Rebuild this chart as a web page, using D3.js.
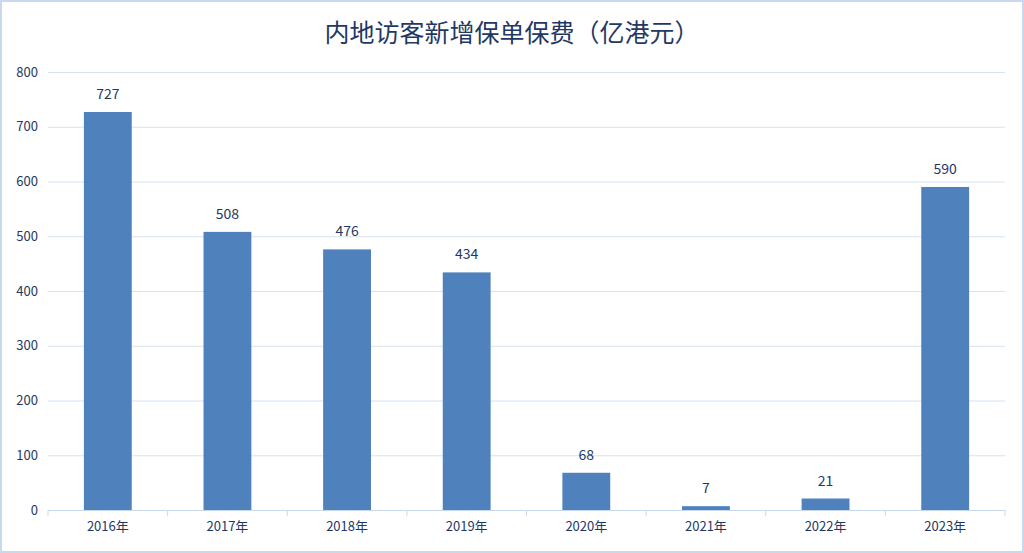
<!DOCTYPE html>
<html><head><meta charset="utf-8">
<script src="https://cdn.jsdelivr.net/npm/d3@7"></script>
<style>body{margin:0;background:#fff}svg{display:block}</style>
</head><body><svg id="c" width="1024" height="553"></svg>
<script>
const categories=["2016年","2017年","2018年","2019年","2020年","2021年","2022年","2023年"];
const values=[727,508,476,434,68,7,21,590];
const yTicks=[0,100,200,300,400,500,600,700,800];
const title="内地访客新增保单保费（亿港元）";

const svg=d3.select("#c");
const W=1024,H=553,m={l:48,r:1005,t:72,b:510};
const font="'Noto Sans CJK SC','Noto Sans',sans-serif";
svg.append("rect").attr("x",1).attr("y",1).attr("width",W-2).attr("height",H-2).attr("fill","#fff").attr("stroke","#c9d9ec").attr("stroke-width",2);
const x=d3.scaleBand().domain(categories).range([m.l,m.r]).paddingInner(0.6).paddingOuter(0.3);
const y=d3.scaleLinear().domain([0,800]).range([m.b,m.t]);
svg.append("text").attr("x",512).attr("y",42).attr("text-anchor","middle").attr("font-family",font).attr("font-size",25).attr("fill","#1f3864").text(title);
const ya=svg.append("g").attr("transform",`translate(${m.l},0)`).call(d3.axisLeft(y).tickValues(yTicks).tickSize(-(m.r-m.l)).tickPadding(10));
ya.select(".domain").remove();
ya.selectAll("line").attr("stroke","#d6e2f0");
ya.selectAll("text").attr("font-family",font).attr("font-size",13).attr("fill","#1f3864");
const xa=svg.append("g").attr("transform",`translate(0,${m.b})`).call(d3.axisBottom(x).tickSize(0).tickPadding(12));
xa.select(".domain").attr("stroke","#c9d9ec");
xa.selectAll("text").attr("font-family",font).attr("font-size",13).attr("fill","#1f3864");
// category separator ticks
svg.selectAll(".sep").data(d3.range(categories.length+1)).enter().append("line")
 .attr("x1",i=>m.l+i*(m.r-m.l)/categories.length).attr("x2",i=>m.l+i*(m.r-m.l)/categories.length)
 .attr("y1",m.b).attr("y2",m.b+6).attr("stroke","#c9d9ec");
svg.selectAll(".bar").data(values).enter().append("rect")
 .attr("x",(d,i)=>x(categories[i])).attr("width",x.bandwidth())
 .attr("y",d=>y(d)).attr("height",d=>m.b-y(d)).attr("fill","#4f81bd");
svg.selectAll(".lbl").data(values).enter().append("text")
 .attr("x",(d,i)=>x(categories[i])+x.bandwidth()/2).attr("y",d=>y(d)-13)
 .attr("text-anchor","middle").attr("font-family",font).attr("font-size",14).attr("fill","#1f3864").text(d=>d);
</script></body></html>
